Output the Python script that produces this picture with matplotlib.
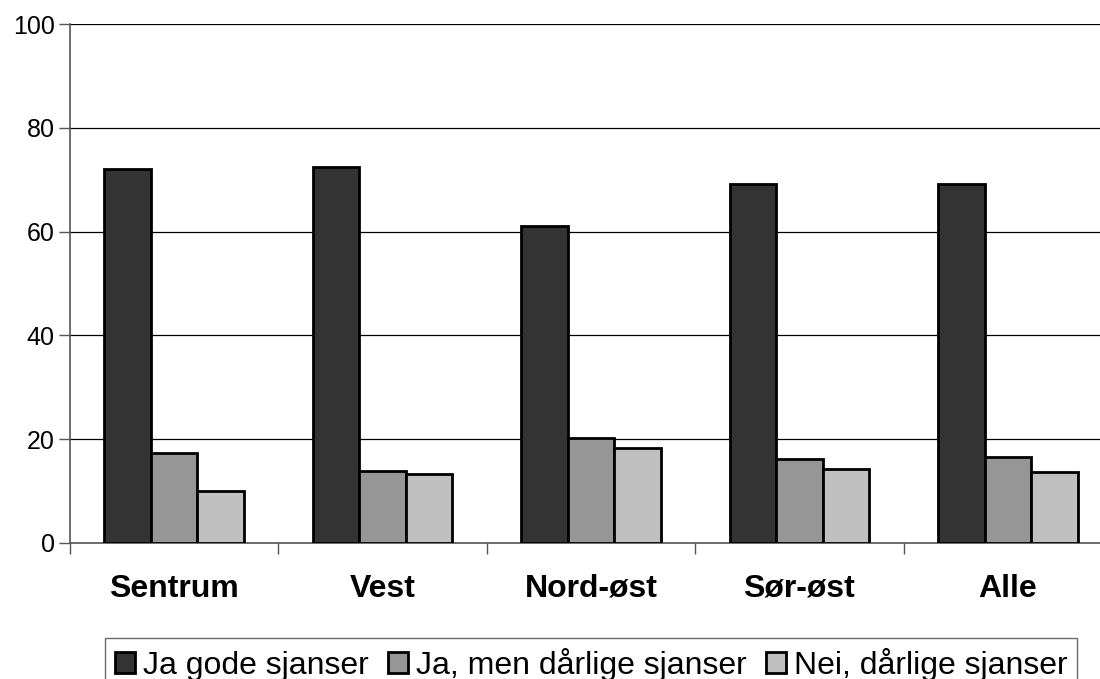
import numpy as np
import matplotlib
matplotlib.use("Agg")
import matplotlib.pyplot as plt

plt.rcParams['font.family'] = ['Liberation Sans', 'DejaVu Sans']

regions = ["Sentrum", "Vest", "Nord-øst", "Sør-øst", "Alle"]
series_names = ["Ja gode sjanser", "Ja, men dårlige sjanser", "Nei, dårlige sjanser"]
ja_gode = [72.0, 72.5, 61.0, 69.1, 69.2]
ja_men_darlige = [17.4, 13.8, 20.3, 16.1, 16.5]
nei_darlige = [10.1, 13.2, 18.4, 14.3, 13.7]
colors = ["#333333", "#969696", "#c0c0c0"]

fig = plt.figure(figsize=(11, 6.79), dpi=100)
ax = fig.add_axes([70 / 1100, 1 - 543 / 679, 1042 / 1100, 519 / 679])

x = np.arange(len(regions))
w = 0.223
for i, (vals, name) in enumerate(zip([ja_gode, ja_men_darlige, nei_darlige], series_names)):
    ax.bar(x + (i - 1) * w + 0.5, vals, w, color=colors[i], edgecolor="black",
           linewidth=2, label=name, zorder=3)

ax.set_xlim(0, len(regions))
ax.set_ylim(0, 100)
ax.set_yticks(range(0, 101, 20))
ax.yaxis.grid(True, color="black", linewidth=0.9, zorder=0)
ax.tick_params(axis="y", labelsize=18, length=8, width=1, direction="out", pad=3,
               color="#555555")

# ticks at category borders, labels at centers
ax.set_xticks(np.arange(0, len(regions)))
ax.set_xticklabels([])
ax.set_xticks(x + 0.5, minor=True)
ax.set_xticklabels(regions, minor=True, fontsize=23, fontweight="bold")
ax.tick_params(axis="x", which="major", length=8, width=1, color="#555555")
ax.tick_params(axis="x", which="minor", length=0, pad=22)

for s in ["top", "right"]:
    ax.spines[s].set_visible(False)
ax.spines["left"].set_color("#555555")
ax.spines["bottom"].set_color("#555555")
ax.spines["left"].set_linewidth(1.2)
ax.spines["bottom"].set_linewidth(1.2)

leg = fig.legend(loc="upper center", bbox_to_anchor=(591 / 1100, 1 - 638 / 679), ncol=3,
                 fontsize=23, frameon=True, fancybox=False, edgecolor="#444444",
                 handlelength=0.63, handleheight=0.63, handletextpad=0.25,
                 columnspacing=0.6, borderpad=0.3, borderaxespad=0)
leg.get_frame().set_linewidth(1)

fig.savefig("out.png", dpi=100)
